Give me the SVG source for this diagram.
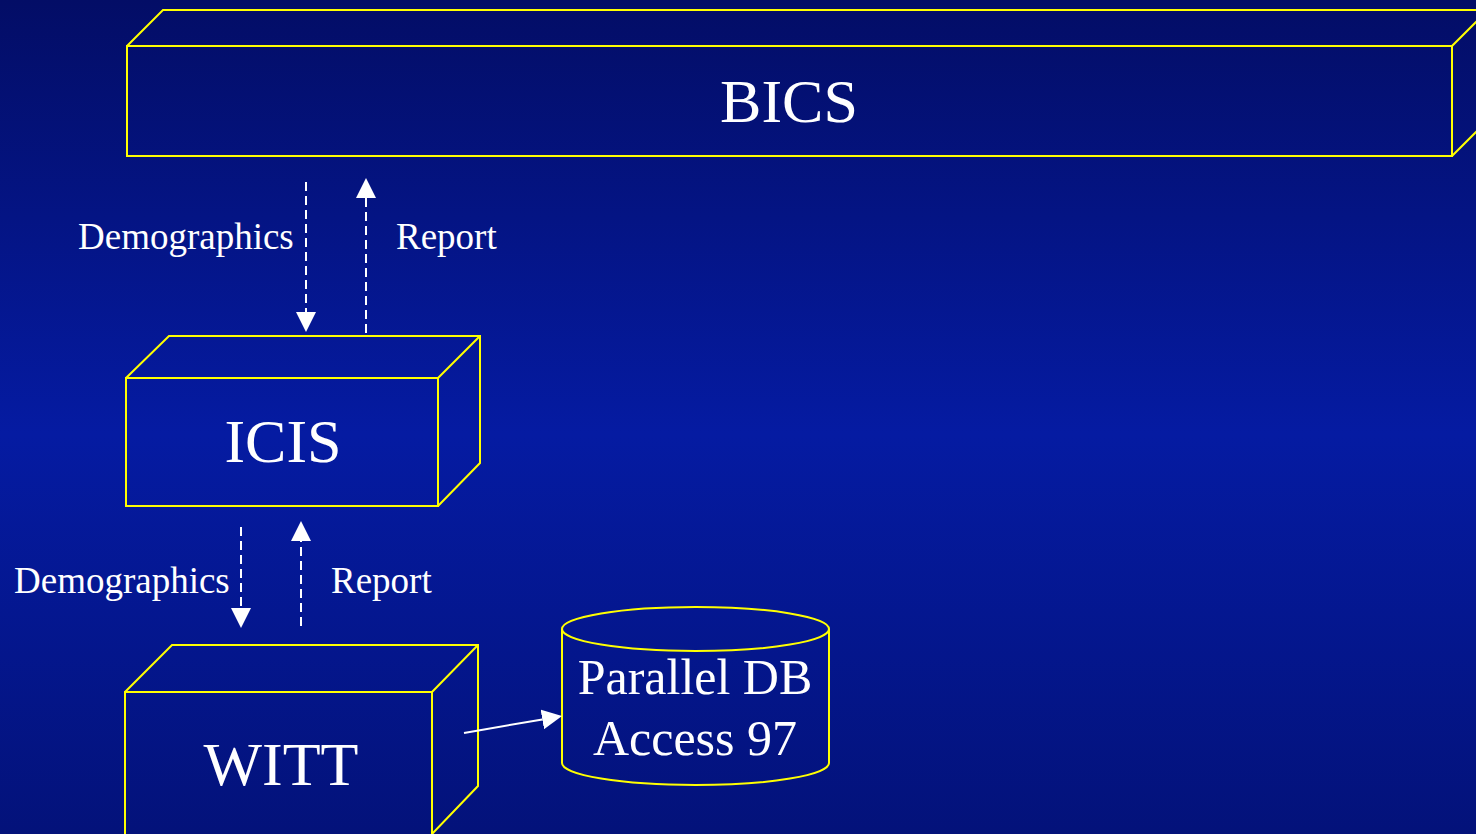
<svg xmlns="http://www.w3.org/2000/svg" width="1476" height="834" viewBox="0 0 1476 834">
  <style>
    .edge { fill: none; stroke: #ffff00; stroke-width: 2; stroke-linejoin: miter; }
    .title { font-family: "Liberation Serif", "Times New Roman", serif; fill: #ffffff; text-anchor: middle; }
    .big { font-size: 62px; }
    .db { font-size: 50px; }
    .lbl { font-family: "Liberation Serif", "Times New Roman", serif; fill: #ffffff; font-size: 37px; }
    .flow { fill: none; stroke: #ffffff; stroke-width: 2; stroke-dasharray: 9 5; }
    .solid { fill: none; stroke: #ffffff; stroke-width: 2; }
  </style>
  <defs>
    <linearGradient id="bg" x1="0" y1="0" x2="0" y2="1">
      <stop offset="0" stop-color="#030d66"/>
      <stop offset="0.52" stop-color="#051ba2"/>
      <stop offset="1" stop-color="#03127a"/>
    </linearGradient>
    <marker id="head" markerUnits="userSpaceOnUse" markerWidth="20" markerHeight="20" viewBox="0 0 20 20" refX="0" refY="10" orient="auto">
      <path d="M0,0 L20,10 L0,20 z" fill="#ffffff"/>
    </marker>
  </defs>

  <rect width="1476" height="834" fill="url(#bg)"/>

  <!-- BICS: long 3D bar across the top -->
  <g id="bics">
    <path class="edge" d="M127,46 L163,10 L1512,10"/>
    <rect class="edge" x="127" y="46" width="1325" height="110"/>
    <path class="edge" d="M1452,46 L1488,10 M1452,156 L1488,120"/>
    <text class="title big" x="789" y="122">BICS</text>
  </g>

  <!-- ICIS box -->
  <g id="icis">
    <rect class="edge" x="126" y="378" width="312" height="128"/>
    <path class="edge" d="M126,378 L169,336 L480,336 L480,463 L438,506 M438,378 L480,336"/>
    <text class="title big" x="283" y="462">ICIS</text>
  </g>

  <!-- WITT box -->
  <g id="witt">
    <rect class="edge" x="125" y="692" width="307" height="160"/>
    <path class="edge" d="M125,692 L172,645 L478,645 L478,786 L432,834 M432,692 L478,645"/>
    <text class="title big" x="281" y="785">WITT</text>
  </g>

  <!-- Parallel DB cylinder -->
  <g id="paralleldb">
    <path class="edge" d="M562,629 L562,763 A133.5,22 0 0 0 829,763 L829,629"/>
    <ellipse class="edge" cx="695.5" cy="629" rx="133.5" ry="22"/>
    <text class="title db" x="695" y="694">Parallel DB</text>
    <text class="title db" x="695" y="755">Access 97</text>
  </g>

  <!-- Connectors -->
  <g id="connectors">
    <path class="flow" d="M306,182 L306,312" marker-end="url(#head)"/>
    <path class="flow" d="M366,333 L366,198" marker-end="url(#head)"/>
    <path class="flow" d="M241,527 L241,608" marker-end="url(#head)"/>
    <path class="flow" d="M301,626 L301,541" marker-end="url(#head)"/>
    <path class="solid" d="M464,733 L542.3,719.4" marker-end="url(#head)"/>
  </g>

  <!-- Connector labels -->
  <g id="labels">
    <text class="lbl" x="78" y="249">Demographics</text>
    <text class="lbl" x="396" y="249">Report</text>
    <text class="lbl" x="14" y="593">Demographics</text>
    <text class="lbl" x="331" y="593">Report</text>
  </g>
</svg>
